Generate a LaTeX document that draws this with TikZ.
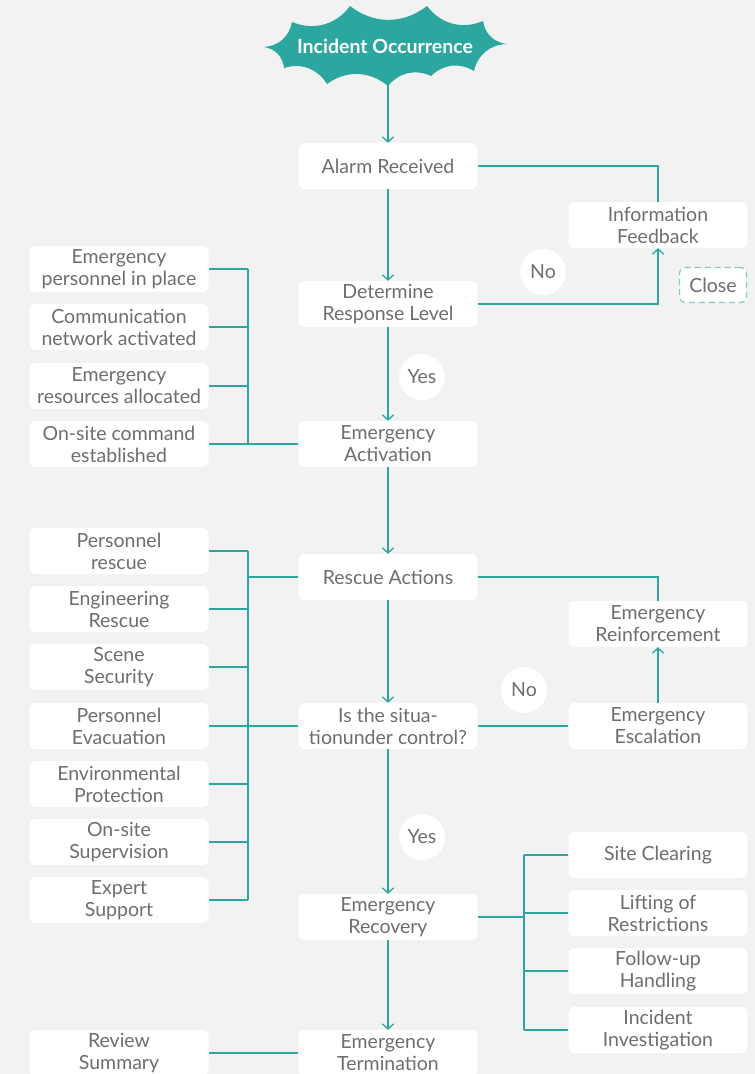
\documentclass[tikz,border=0pt]{standalone}
\usepackage{fontspec}
\setmainfont{Lato}
\usetikzlibrary{arrows.meta}
\definecolor{bg}{HTML}{F2F2F2}
\definecolor{tealc}{HTML}{2BA79F}
\definecolor{txt}{HTML}{6E6E6E}
\definecolor{dashc}{HTML}{7FCDC6}
\tikzset{
  box/.style={fill=white, rounded corners=6pt, minimum width=179pt, minimum height=46pt,
    align=center, text=txt, font=\fontsize{19.5}{22}\selectfont, inner sep=1pt},
  circ/.style={circle, fill=white, minimum size=46pt, inner sep=0pt, text=txt,
    font=\fontsize{19.5}{22}\selectfont},
  ln/.style={draw=tealc, line width=1.3pt},
  arr/.style={ln, -{Straight Barb[length=5pt,width=11pt,line width=1.3pt]}},
  bl/.style={bend left=38},
}
\begin{document}
\begin{tikzpicture}[x=1pt,y=-1pt]
\fill[bg] (0,0) rectangle (755,1074);
\useasboundingbox (0,0) rectangle (755,1074);
\clip (0,0) rectangle (755,1074);
% starburst
\fill[tealc] (507,44) to[bl] (483,21) to[bl] (427,6) to[bl] (350,6)
  to[bl] (292,22) to[bl] (264,47) to[bl] (284,68)
  to[bl] (327,84) to[bl] (388,86) to[bl] (431,76) to[bl] (474,71)
  to[bl] cycle;
\node[minimum width=240pt, minimum height=78pt, text=white, font=\fontsize{19.5}{22}\selectfont\bfseries] (inc) at (385,46) {Incident Occurrence};
% main column
\node[box] (alarm) at (388,166) {Alarm Received};
\node[box] (det) at (388,304) {Determine\\Response Level};
\node[box] (act) at (388,444) {Emergency\\Activation};
\node[box] (resc) at (388,577) {Rescue Actions};
\node[box] (ctrl) at (388,726) {Is the situa-\\tionunder control?};
\node[box] (recov) at (388,917) {Emergency\\Recovery};
\node[box] (term) at (388,1053) {Emergency\\Termination};
% right column
\node[box] (info) at (658,225) {Information\\Feedback};
\node[box, minimum width=67pt, minimum height=35pt, draw=dashc, dashed, line width=1.2pt, dash pattern=on 6pt off 4pt] (close) at (713,285) {Close};
\node[box] (reinf) at (658,624) {Emergency\\Reinforcement};
\node[box] (esc) at (658,726) {Emergency\\Escalation};
\node[box] (s1) at (658,855) {Site Clearing};
\node[box] (s2) at (658,913) {Lifting of\\Restrictions};
\node[box] (s3) at (658,971) {Follow-up\\Handling};
\node[box] (s4) at (658,1030) {Incident\\Investigation};
% left groups
\node[box] (l1) at (119,269) {Emergency\\personnel in place};
\node[box] (l2) at (119,327) {Communication\\network activated};
\node[box] (l3) at (119,386) {Emergency\\resources allocated};
\node[box] (l4) at (119,444) {On-site command\\established};
\node[box] (r1) at (119,551) {Personnel\\rescue};
\node[box] (r2) at (119,609) {Engineering\\Rescue};
\node[box] (r3) at (119,667) {Scene\\Security};
\node[box] (r4) at (119,726) {Personnel\\Evacuation};
\node[box] (r5) at (119,784) {Environmental\\Protection};
\node[box] (r6) at (119,842) {On-site\\Supervision};
\node[box] (r7) at (119,900) {Expert\\Support};
\node[box] (rev) at (119,1053) {Review\\Summary};
% circles
\node[circ] (no1) at (543,272) {No};
\node[circ] (yes1) at (422,377) {Yes};
\node[circ] (no2) at (524,690) {No};
\node[circ] (yes2) at (422,837) {Yes};
% buses
\coordinate (ba1) at (248,269);
\coordinate (ba2) at (248,444);
\coordinate (bb1) at (248,551);
\coordinate (bb2) at (248,900);
\coordinate (bc1) at (524,855);
\coordinate (bc2) at (524,1030);
% connectors
\draw[arr] (alarm.north |- inc.south) -- (alarm.north);
\draw[arr] (alarm.south) -- (det.north);
\draw[ln] (alarm.east) -| (info.north);
\draw[arr] (det.east) -| (info.south);
\draw[arr] (det.south) -- (act.north);
\draw[arr] (act.south) -- (resc.north);
\draw[arr] (resc.south) -- (ctrl.north);
\draw[arr] (ctrl.south) -- (recov.north);
\draw[arr] (recov.south) -- (term.north);
\draw[ln] (resc.east) -| (reinf.north);
\draw[arr] (esc.north) -- (reinf.south);
\draw[ln] (ctrl.east) -- (esc.west);
\draw[ln] (ba1) -- (ba2);
\foreach \n in {l1,l2,l3,l4} \draw[ln] (\n.east) -- (\n.east -| ba1);
\draw[ln] (ba2) -- (act.west);
\draw[ln] (bb1) -- (bb2);
\foreach \n in {r1,r2,r3,r4,r5,r6,r7} \draw[ln] (\n.east) -- (\n.east -| bb1);
\draw[ln] (resc.west) -- (resc.west -| bb1);
\draw[ln] (ctrl.west) -- (ctrl.west -| bb1);
\draw[ln] (bc1) -- (bc2);
\foreach \n in {s1,s2,s3,s4} \draw[ln] (\n.west) -- (\n.west -| bc1);
\draw[ln] (recov.east) -- (recov.east -| bc1);
\draw[ln] (rev.east) -- (term.west);
\end{tikzpicture}
\end{document}
